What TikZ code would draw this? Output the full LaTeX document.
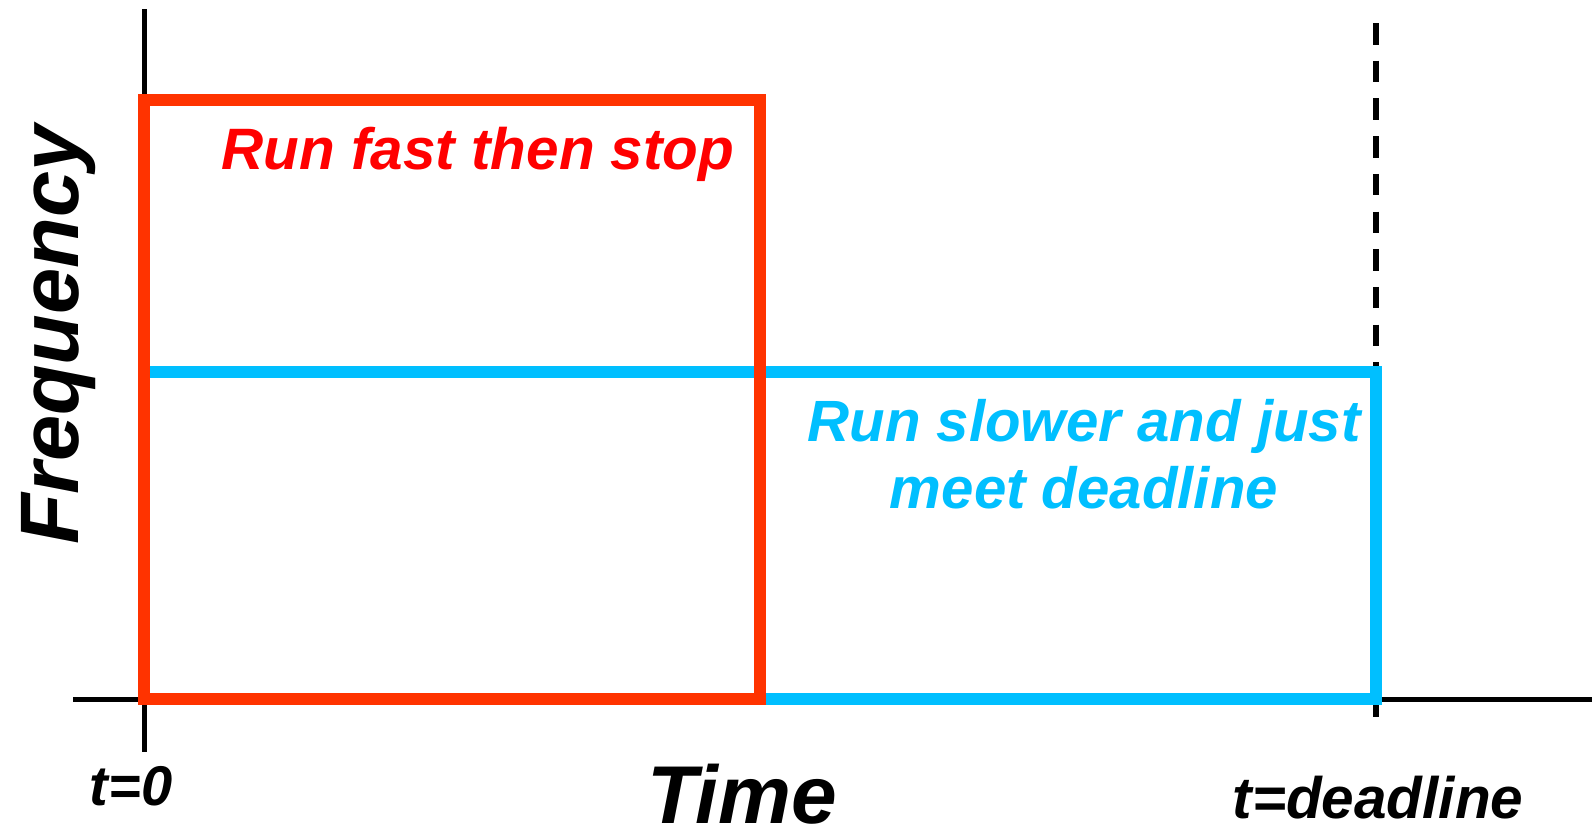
\documentclass[tikz,border=0pt]{standalone}
\usepackage{fontspec}
\setmainfont{Liberation Sans}
\definecolor{boxred}{HTML}{FF3300}
\definecolor{txtred}{HTML}{FF0000}
\definecolor{skyblue}{HTML}{00BFFF}
\newcommand{\fsz}[1]{\fontsize{#1}{#1}\selectfont\bfseries\itshape}
\tikzset{
  axisline/.style={draw=black, line width=5pt},
  deadlinedash/.style={draw=black, line width=5.5pt, dash pattern=on 21.5pt off 16.2pt},
  fastpath/.style={draw=boxred, line width=12pt, line join=miter},
  slowpath/.style={draw=skyblue, line width=12pt, line join=miter},
  lbl/.style={inner sep=0pt, anchor=base},
}
\begin{document}
\begin{tikzpicture}[x=1pt, y=-1pt]
\useasboundingbox (0,0) rectangle (1592,827);
% coordinates
\coordinate (ytop) at (144,9);
\coordinate (ybot) at (144,752);
\coordinate (xleft) at (73,699);
\coordinate (xright) at (1592,699);
\coordinate (dtop) at (1376,23);
\coordinate (dbot) at (1376,717);
\coordinate (o) at (144,699);
\coordinate (fastTL) at (144,100);
\coordinate (fastTR) at (760,100);
\coordinate (fastBR) at (760,699);
\coordinate (slowL) at (144,372);
\coordinate (slowTR) at (1376,372);
\coordinate (slowBR) at (1376,699);
% axes
\draw[axisline] (ytop) -- (ybot);
\draw[axisline] (xleft) -- (xright);
\draw[deadlinedash] (dtop) -- (dbot);
% slow schedule
\draw[slowpath] (slowL) -- (slowTR) -- (slowBR) -- (fastBR);
% fast schedule
\draw[fastpath] (o) -- (fastTL) -- (fastTR) -- (fastBR) -- cycle;
% labels
\node[lbl, text=txtred] (fastlbl) at (478,169) {\fsz{58.4}Run fast then stop};
\node[lbl, text=skyblue] (slowlbl1) at (1084,441) {\fsz{58.2}Run slower and just};
\node[lbl, text=skyblue] (slowlbl2) at (1084,508) {\fsz{58.2}meet deadline};
\node[lbl, rotate=90] (freq) at (78,335) {\fsz{83}Frequency};
\node[lbl] (time) at (742,823) {\fsz{82}Time};
\node[lbl] (t0) at (131,805) {\fsz{56}t=0};
\node[lbl] (tdl) at (1378,818) {\fsz{58.5}t=deadline};
\end{tikzpicture}
\end{document}
